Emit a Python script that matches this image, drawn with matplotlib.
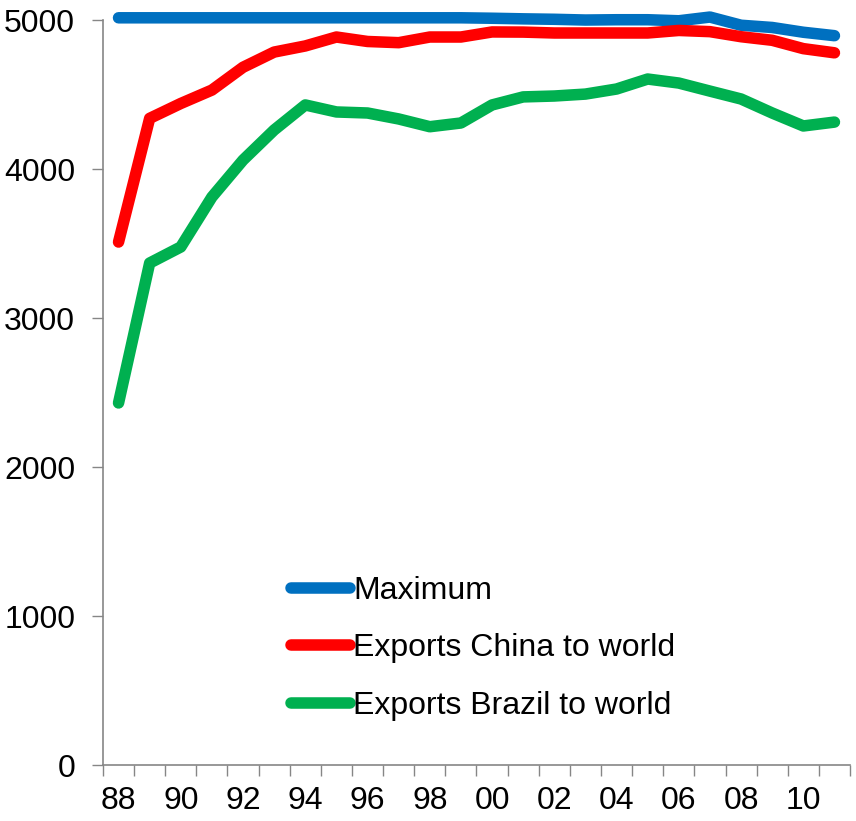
import matplotlib.pyplot as plt
import numpy as np

plt.rcParams['font.family'] = ['Liberation Sans', 'DejaVu Sans']

years = list(range(1988, 2012))
tick_labels = ['88', '90', '92', '94', '96', '98', '00', '02', '04', '06', '08', '10']

maximum = [5015, 5015, 5015, 5015, 5015, 5015, 5015, 5015, 5015, 5015, 5015, 5015,
           5012, 5008, 5005, 5000, 5002, 5002, 4995, 5020, 4965, 4950, 4918, 4895]
china = [3510, 4340, 4440, 4530, 4683, 4785, 4826, 4886, 4856, 4848, 4886, 4886,
         4920, 4919, 4913, 4913, 4913, 4913, 4930, 4922, 4888, 4864, 4808, 4780]
brazil = [2430, 3369, 3477, 3812, 4060, 4262, 4430, 4383, 4376, 4336, 4284, 4309,
          4430, 4484, 4490, 4503, 4537, 4604, 4577, 4523, 4470, 4376, 4289, 4315]

series = [
    ('Maximum', maximum, '#0070c0'),
    ('Exports China to world', china, '#ff0000'),
    ('Exports Brazil to world', brazil, '#00b050'),
]

fig = plt.figure(figsize=(8.56, 8.21), dpi=100)
ax = fig.add_axes([0.1203, 0.0682, 0.8727, 0.9074])

x = np.arange(len(years))
for name, vals, col in series:
    ax.plot(x, vals, color=col, lw=8.3, solid_capstyle='round',
            solid_joinstyle='round', label=name, clip_on=False)

ax.set_xlim(-0.5, len(years) - 0.5)
ax.set_ylim(0, 5000)
ax.set_yticks([0, 1000, 2000, 3000, 4000, 5000])

# tick marks sit between categories, labels on every second year
ax.set_xticks(np.arange(-0.5, len(years)), labels=[])
ax.set_xticks(np.arange(0, len(years), 2), labels=tick_labels, minor=True)
ax.tick_params(axis='x', which='major', length=8, width=1, color='#868686')
ax.tick_params(axis='x', which='minor', length=0, pad=15, labelsize=23)
ax.tick_params(axis='y', length=8, width=1, color='#868686', pad=12, labelsize=23)

for s in ['top', 'right']:
    ax.spines[s].set_visible(False)
for s in ['left', 'bottom']:
    ax.spines[s].set_color('#868686')
    ax.spines[s].set_linewidth(1.2)

leg = ax.legend(loc='upper left', bbox_to_anchor=(291 / 856, 1 - 576 / 821),
                bbox_transform=fig.transFigure, frameon=False, fontsize=23,
                handlelength=1.85, handletextpad=0.1, labelspacing=0.86,
                borderpad=0, borderaxespad=0)

fig.savefig('out.png', dpi=100)
